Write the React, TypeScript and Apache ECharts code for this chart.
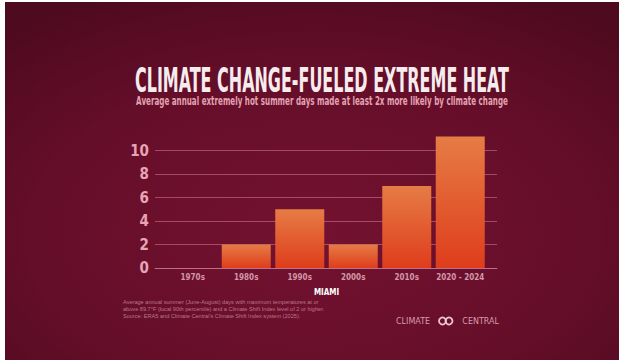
import React, { useEffect, useRef } from "react";
import * as echarts from "echarts";

// Decades and the average annual number of extremely hot summer days
const categories = ["1970s", "1980s", "1990s", "2000s", "2010s", "2020 - 2024"];
const hotDays = [0, 2, 5, 2, 7, 11.2];
const yTickStep = 2;
const yGridMax = 10;
const yBarMax = 11.5;

const titleText = "CLIMATE CHANGE-FUELED EXTREME HEAT";
const subtitleText =
  "Average annual extremely hot summer days made at least 2x more likely by climate change";
const cityName = "MIAMI";
const footnoteLines = [
  "Average annual summer (June-August) days with maximum temperatures at or",
  "above 89.7\u00b0F (local 90th percentile) and a Climate Shift Index level of 2 or higher.",
  "Source: ERA5 and Climate Central's Climate Shift Index system (2025).",
];

const NARROW = '"Liberation Sans Narrow", "DejaVu Sans Condensed", "Roboto", sans-serif';

// pixel layout of the plot: zero line and pixels per day
const ZERO_Y = 268;
const PX_PER_UNIT = 11.73;

function fitScale(text: string, font: string, width: number): number {
  const c = document.createElement("canvas").getContext("2d");
  if (!c) return 1;
  c.font = font;
  const w = c.measureText(text).width;
  return w > 0 ? width / w : 1;
}

export default function App() {
  const ref = useRef<HTMLDivElement>(null);

  useEffect(() => {
    if (!ref.current) return;
    const chart = echarts.init(ref.current, undefined, { renderer: "svg" });

    const titleFont = `bold 33px ${NARROW}`;
    const subFont = `bold 12px ${NARROW}`;
    const titleScale = fitScale(titleText, titleFont, 374);
    const subScale = fitScale(subtitleText, subFont, 372);

    const gridColor = "rgba(228, 150, 172, 0.45)";
    const pink = "#e9a3b6";
    const logoFont = "8px 'DejaVu Sans', sans-serif";
    const logoFill = "rgba(236, 184, 200, 0.85)";

    chart.setOption({
      animation: false,
      backgroundColor: "#ffffff",
      graphic: [
        {
          type: "rect",
          z: -10,
          silent: true,
          shape: { x: 5, y: 2, width: 614, height: 358 },
          style: {
            fill: new echarts.graphic.RadialGradient(0.5, 0.65, 0.75, [
              { offset: 0, color: "#731230" },
              { offset: 0.6, color: "#650e29" },
              { offset: 1, color: "#4e0a1e" },
            ]),
          },
        },
        {
          type: "text",
          x: 322,
          y: 80,
          scaleX: titleScale,
          style: {
            text: titleText,
            font: titleFont,
            fill: "#f6ecee",
            textAlign: "center",
            textVerticalAlign: "middle",
          },
        },
        {
          type: "text",
          x: 322,
          y: 101,
          scaleX: subScale,
          style: {
            text: subtitleText,
            font: subFont,
            fill: "#e3a2b2",
            textAlign: "center",
            textVerticalAlign: "middle",
          },
        },
        ...footnoteLines.map((line, i) => ({
          type: "text",
          x: 123,
          y: 302 + i * 7,
          style: {
            text: line,
            font: "5.6px 'Liberation Sans', sans-serif",
            fill: "rgba(238, 190, 204, 0.6)",
            textAlign: "left",
            textVerticalAlign: "middle",
          },
        })),
        {
          type: "text",
          x: 396,
          y: 321,
          style: {
            text: "CLIMATE",
            font: logoFont,
            fill: logoFill,
            textAlign: "left",
            textVerticalAlign: "middle",
          },
        },
        {
          type: "circle",
          shape: { cx: 442.5, cy: 321, r: 3.5 },
          style: { fill: "none", stroke: "rgba(245, 205, 218, 0.95)", lineWidth: 1.8 },
        },
        {
          type: "circle",
          shape: { cx: 449, cy: 321, r: 3.5 },
          style: { fill: "none", stroke: "rgba(245, 205, 218, 0.95)", lineWidth: 1.8 },
        },
        {
          type: "text",
          x: 499,
          y: 321,
          style: {
            text: "CENTRAL",
            font: logoFont,
            fill: logoFill,
            textAlign: "right",
            textVerticalAlign: "middle",
          },
        },
      ],
      grid: [
        // wide grid carrying the gridlines and value labels
        { left: 155, right: 124, top: ZERO_Y - PX_PER_UNIT * yGridMax, bottom: 360 - ZERO_Y },
        // bar grid
        { left: 166, right: 134, top: ZERO_Y - PX_PER_UNIT * yBarMax, bottom: 360 - ZERO_Y },
      ],
      xAxis: [
        {
          type: "category",
          gridIndex: 0,
          data: categories,
          axisLine: { show: true, lineStyle: { color: gridColor, width: 1 } },
          axisTick: { show: false },
          axisLabel: { show: false },
        },
        {
          type: "category",
          gridIndex: 1,
          data: categories,
          axisLine: { show: false },
          axisTick: { show: false },
          axisLabel: {
            interval: 0,
            color: "#d497a8",
            fontFamily: NARROW,
            fontWeight: "bold",
            fontSize: 8,
            margin: 5,
          },
          name: cityName,
          nameLocation: "middle",
          nameGap: 20,
          nameTextStyle: {
            color: "#ffffff",
            fontFamily: NARROW,
            fontWeight: "bold",
            fontSize: 8,
          },
        },
      ],
      yAxis: [
        {
          type: "value",
          gridIndex: 0,
          min: 0,
          max: yGridMax,
          interval: yTickStep,
          axisLine: { show: false },
          axisTick: { show: false },
          splitLine: { show: true, lineStyle: { color: gridColor, width: 1 } },
          axisLabel: {
            color: pink,
            fontFamily: NARROW,
            fontWeight: "bold",
            fontSize: 15,
            margin: 6,
          },
        },
        {
          type: "value",
          gridIndex: 1,
          min: 0,
          max: yBarMax,
          show: false,
          splitLine: { show: false },
        },
      ],
      series: [
        {
          type: "bar",
          xAxisIndex: 1,
          yAxisIndex: 1,
          data: hotDays,
          barWidth: 49,
          itemStyle: {
            color: new echarts.graphic.LinearGradient(0, 0, 0, 1, [
              { offset: 0, color: "#e67c45" },
              { offset: 1, color: "#de3d1c" },
            ]),
          },
        },
      ],
    });

    return () => chart.dispose();
  }, []);

  return (
    <div
      ref={ref}
      style={{ position: "fixed", left: 0, top: 0, width: 621, height: 360 }}
    />
  );
}
